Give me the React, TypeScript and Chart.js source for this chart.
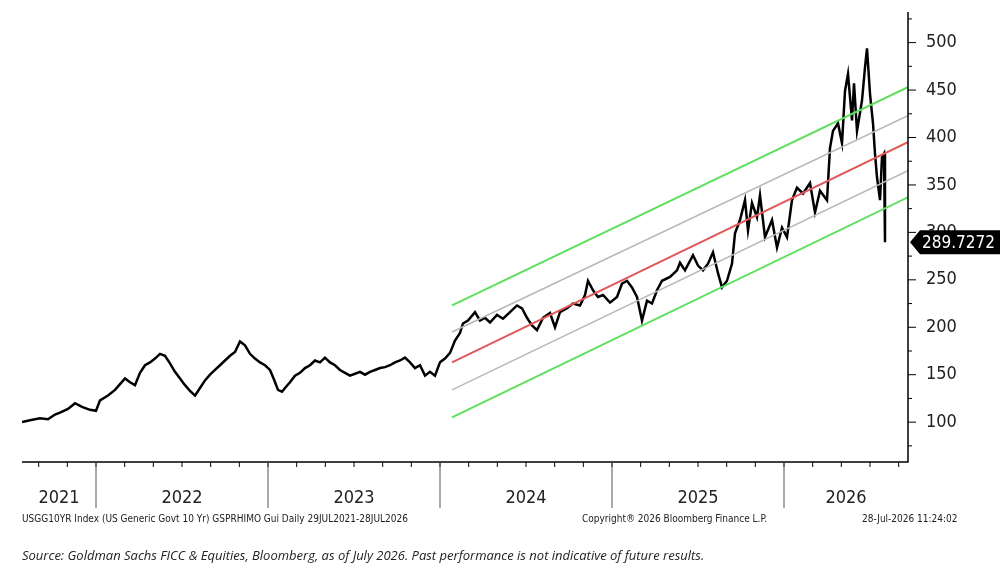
import React, { useEffect, useRef } from "react";
import { Chart, registerables } from "chart.js";
Chart.register(...registerables);

const years = [2022, 2023, 2024, 2025, 2026];
const yearLabels = ["2021", "2022", "2023", "2024", "2025", "2026"];
const yTicks = [100, 150, 200, 250, 300, 350, 400, 450, 500];
// x positions in pixels, converted to fractional years in code
const px = [22,30,40,48,55,60,68,75,82,90,96,100,108,115,120,125,130,135,140,145,150,155,160,165,170,175,180,185,190,195,200,205,210,215,220,225,230,235,240,245,250,255,260,265,270,274,278,282,285,290,295,300,305,310,315,320,325,330,335,340,345,350,355,360,365,370,375,380,385,390,395,400,405,410,415,420,425,430,435,440,
  445,450,455,460,463,468,475,480,485,490,497,503,510,517,522,527,532,537,543,550,555,560,567,573,580,585,588,593,598,603,610,617,622,627,632,637,642,647,652,657,662,670,677,680,685,693,698,703,708,713,718,722,727,732,735,740,745,748,752,757,760,765,772,777,782,787,792,797,803,810,815,820,827,
  830,833,838,842,845,848,852,854,857,862,865,867,870,873,875,877,880,882,884,885];
const values = [100,102,104,103,108,110,114,120,116,113,112,123,128,134,140,146,142,139,152,160,163,167,172,170,162,153,146,139,133,128,136,144,150,155,160,165,170,174,185,181,172,167,163,160,155,145,134,132,136,142,149,152,157,160,165,163,168,163,160,155,152,149,151,153,150,153,155,157,158,160,163,165,168,163,157,160,149,153,149,163,
  167,173,186,194,204,207,216,207,210,205,213,209,216,223,220,210,202,197,210,215,200,216,220,225,223,234,249,239,232,234,226,232,246,249,242,232,207,228,225,239,249,253,260,268,260,276,265,260,267,279,257,242,249,267,299,313,334,302,331,316,339,295,313,284,305,295,334,347,341,352,321,344,334,
  389,407,415,394,449,467,418,457,407,439,474,494,446,415,383,358,334,379,383,289.7272];
const channelStart = 2024.07;
const channelEnd = 2026.72;
const redLine = [163, 395];
const greenUpper = [223, 453];
const greenLower = [105, 337];
const grayUpper = [195, 423];
const grayLower = [134, 365];
const lastLabel = "289.7272";

const toYear = (x: number) => 2022 + (x - 96) / 172;

export default function App() {
  const ref = useRef<HTMLCanvasElement>(null);
  useEffect(() => {
    document.body.style.margin = "0";
    const line = (v: number[], color: string, w: number) => ({
      data: [{ x: channelStart, y: v[0] }, { x: channelEnd, y: v[1] }],
      borderColor: color, borderWidth: w, pointRadius: 0, type: "line" as const,
    });
    const deco = {
      id: "deco",
      afterDraw(c: any) {
        const ctx = c.ctx; const a = c.chartArea; const xs = c.scales.x;
        ctx.save();
        ctx.strokeStyle = "#000"; ctx.lineWidth = 1.5;
        ctx.beginPath(); ctx.moveTo(a.left, a.bottom); ctx.lineTo(a.right, a.bottom); ctx.lineTo(a.right, 12); ctx.stroke();
        ctx.lineWidth = 1;
        for (let t = 2021 + 8 / 12; t < 2026.75; t += 2 / 12) {
          const x = xs.getPixelForValue(t);
          if (x < a.left || x > a.right) continue;
          ctx.beginPath(); ctx.moveTo(x, a.bottom); ctx.lineTo(x, a.bottom + 5); ctx.stroke();
        }
        ctx.strokeStyle = "#555";
        years.forEach((y) => {
          const x = xs.getPixelForValue(y);
          ctx.beginPath(); ctx.moveTo(x, a.bottom); ctx.lineTo(x, a.bottom + 46); ctx.stroke();
        });
        ctx.fillStyle = "#222"; ctx.font = "18px 'DejaVu Sans Condensed'"; ctx.textAlign = "center"; ctx.textBaseline = "middle";
        const bounds = [a.left, ...years.map((y) => xs.getPixelForValue(y)), a.right];
        yearLabels.forEach((l, i) => ctx.fillText(l, (bounds[i] + bounds[i + 1]) / 2, a.bottom + 36));
        const ys = c.scales.y;
        ctx.strokeStyle = "#000";
        for (let v = 75; v <= 525; v += 25) {
          const y = ys.getPixelForValue(v);
          if (y < 12) continue;
          ctx.beginPath(); ctx.moveTo(a.right, y); ctx.lineTo(a.right + (v % 50 === 0 ? 8 : 4), y); ctx.stroke();
        }
        const ly = ys.getPixelForValue(values[values.length - 1]);
        ctx.fillStyle = "#000";
        ctx.beginPath(); ctx.moveTo(a.right + 2, ly); ctx.lineTo(a.right + 12, ly - 12); ctx.lineTo(a.right + 92, ly - 12); ctx.lineTo(a.right + 92, ly + 12); ctx.lineTo(a.right + 12, ly + 12); ctx.closePath(); ctx.fill();
        ctx.fillStyle = "#fff"; ctx.textAlign = "left"; ctx.font = "17px 'DejaVu Sans Condensed'";
        ctx.fillText(lastLabel, a.right + 14, ly + 1);
        ctx.fillStyle = "#222"; ctx.font = "10px 'DejaVu Sans Condensed'";
        ctx.fillText("USGG10YR Index (US Generic Govt 10 Yr) GSPRHIMO Gui Daily 29JUL2021-28JUL2026", 22, 519);
        ctx.fillText("Copyright\u00AE 2026 Bloomberg Finance L.P.", 582, 519);
        ctx.fillText("28-Jul-2026 11:24:02", 862, 519);
        ctx.font = "italic 13px 'Open Sans'";
        ctx.fillText("Source: Goldman Sachs FICC & Equities, Bloomberg, as of July 2026. Past performance is not indicative of future results.", 22, 556);
        ctx.restore();
      },
    };
    const chart = new Chart(ref.current!, {
      type: "line",
      data: {
        datasets: [
          line(greenUpper, "#5ee05e", 2), line(greenLower, "#5ee05e", 2),
          line(grayUpper, "#b8b8b8", 1.5), line(grayLower, "#b8b8b8", 1.5),
          line(redLine, "#e05a5a", 2),
          { data: px.map((x, i) => ({ x: toYear(x), y: values[i] })), borderColor: "#000", borderWidth: 2.5, pointRadius: 0, tension: 0 },
        ],
      },
      options: {
        animation: false, responsive: false,
        layout: { padding: { top: 2, bottom: 121, left: 22, right: 0 } },
        plugins: { legend: { display: false }, tooltip: { enabled: false } },
        scales: {
          x: { type: "linear", min: toYear(22), max: toYear(908), display: false },
          y: {
            position: "right", min: 58, max: 523, grid: { display: false }, border: { display: false },
            afterBuildTicks: (s: any) => { s.ticks = yTicks.map((v) => ({ value: v })); },
            afterFit: (s: any) => { s.width = 94; },
            ticks: { color: "#222", font: { size: 18, family: "DejaVu Sans Condensed" }, padding: 10 },
          },
        },
      },
      plugins: [deco],
    } as any);
    return () => chart.destroy();
  }, []);
  return <canvas ref={ref} width={1002} height={583} style={{ display: "block" }} />;
}
